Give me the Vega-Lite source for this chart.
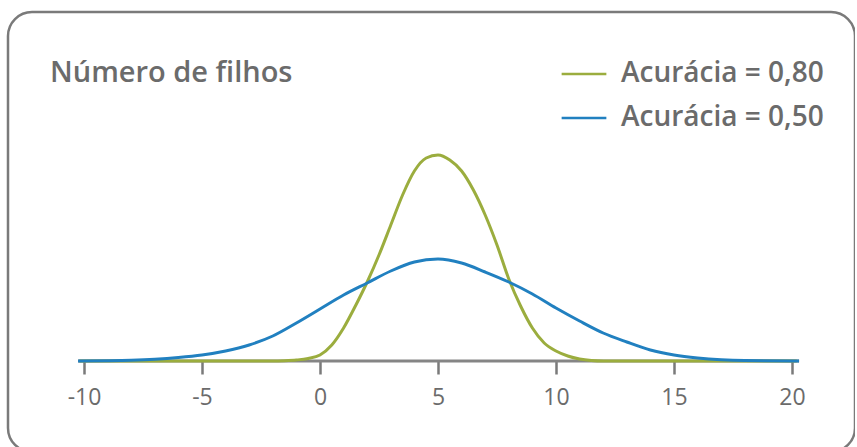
{
  "$schema": "https://vega.github.io/schema/vega-lite/v6.json",
  "autosize": "none",
  "padding": {"left": 8, "top": 12, "right": 0, "bottom": 0},
  "width": 847,
  "height": 440,
  "background": "white",
  "title": {
    "text": "Número de filhos",
    "anchor": "start",
    "frame": "group",
    "dx": 42,
    "offset": -99,
    "baseline": "alphabetic",
    "font": "Open Sans",
    "fontSize": 29,
    "fontWeight": 600,
    "color": "#6b6b6b"
  },
  "config": {
    "view": {"stroke": "#7a7a7a", "strokeWidth": 2.5, "cornerRadius": 24, "fill": "white"},
    "font": "Open Sans"
  },
  "data": {"values": [
    {"s": "Acurácia = 0,80", "x": -10.2, "y": 0},
    {"s": "Acurácia = 0,80", "x": -4, "y": 0},
    {"s": "Acurácia = 0,80", "x": -2, "y": 0},
    {"s": "Acurácia = 0,80", "x": -1.5, "y": 0.3},
    {"s": "Acurácia = 0,80", "x": -1, "y": 1},
    {"s": "Acurácia = 0,80", "x": -0.5, "y": 2.5},
    {"s": "Acurácia = 0,80", "x": 0, "y": 6},
    {"s": "Acurácia = 0,80", "x": 0.5, "y": 16},
    {"s": "Acurácia = 0,80", "x": 1, "y": 33},
    {"s": "Acurácia = 0,80", "x": 1.5, "y": 55},
    {"s": "Acurácia = 0,80", "x": 2, "y": 79},
    {"s": "Acurácia = 0,80", "x": 2.5, "y": 106},
    {"s": "Acurácia = 0,80", "x": 3, "y": 136},
    {"s": "Acurácia = 0,80", "x": 3.5, "y": 166},
    {"s": "Acurácia = 0,80", "x": 4, "y": 190},
    {"s": "Acurácia = 0,80", "x": 4.5, "y": 203},
    {"s": "Acurácia = 0,80", "x": 5, "y": 206},
    {"s": "Acurácia = 0,80", "x": 5.5, "y": 201},
    {"s": "Acurácia = 0,80", "x": 6, "y": 190},
    {"s": "Acurácia = 0,80", "x": 6.5, "y": 171},
    {"s": "Acurácia = 0,80", "x": 7, "y": 146},
    {"s": "Acurácia = 0,80", "x": 7.5, "y": 116},
    {"s": "Acurácia = 0,80", "x": 8, "y": 82},
    {"s": "Acurácia = 0,80", "x": 8.5, "y": 55},
    {"s": "Acurácia = 0,80", "x": 9, "y": 33},
    {"s": "Acurácia = 0,80", "x": 9.5, "y": 18},
    {"s": "Acurácia = 0,80", "x": 10, "y": 10},
    {"s": "Acurácia = 0,80", "x": 10.5, "y": 5},
    {"s": "Acurácia = 0,80", "x": 11, "y": 2},
    {"s": "Acurácia = 0,80", "x": 11.5, "y": 0.5},
    {"s": "Acurácia = 0,80", "x": 12, "y": 0},
    {"s": "Acurácia = 0,80", "x": 16, "y": 0},
    {"s": "Acurácia = 0,80", "x": 20.2, "y": 0},
    {"s": "Acurácia = 0,50", "x": -10.25, "y": 0},
    {"s": "Acurácia = 0,50", "x": -9, "y": 0.3},
    {"s": "Acurácia = 0,50", "x": -8, "y": 0.8},
    {"s": "Acurácia = 0,50", "x": -7, "y": 1.8},
    {"s": "Acurácia = 0,50", "x": -6, "y": 3.5},
    {"s": "Acurácia = 0,50", "x": -5, "y": 6},
    {"s": "Acurácia = 0,50", "x": -4, "y": 10},
    {"s": "Acurácia = 0,50", "x": -3, "y": 16},
    {"s": "Acurácia = 0,50", "x": -2, "y": 25},
    {"s": "Acurácia = 0,50", "x": -1, "y": 38},
    {"s": "Acurácia = 0,50", "x": 0, "y": 52},
    {"s": "Acurácia = 0,50", "x": 1, "y": 66},
    {"s": "Acurácia = 0,50", "x": 2, "y": 78},
    {"s": "Acurácia = 0,50", "x": 3, "y": 90},
    {"s": "Acurácia = 0,50", "x": 4, "y": 99},
    {"s": "Acurácia = 0,50", "x": 5, "y": 102},
    {"s": "Acurácia = 0,50", "x": 6, "y": 98},
    {"s": "Acurácia = 0,50", "x": 7, "y": 89},
    {"s": "Acurácia = 0,50", "x": 8, "y": 79},
    {"s": "Acurácia = 0,50", "x": 9, "y": 67},
    {"s": "Acurácia = 0,50", "x": 10, "y": 53},
    {"s": "Acurácia = 0,50", "x": 11, "y": 40},
    {"s": "Acurácia = 0,50", "x": 12, "y": 28},
    {"s": "Acurácia = 0,50", "x": 13, "y": 19},
    {"s": "Acurácia = 0,50", "x": 14, "y": 11},
    {"s": "Acurácia = 0,50", "x": 15, "y": 6},
    {"s": "Acurácia = 0,50", "x": 16, "y": 3},
    {"s": "Acurácia = 0,50", "x": 17, "y": 1.2},
    {"s": "Acurácia = 0,50", "x": 18, "y": 0.4},
    {"s": "Acurácia = 0,50", "x": 20.3, "y": 0}
  ]},
  "layer": [
    {
      "mark": {"type": "rule", "color": "#858585", "strokeWidth": 3},
      "encoding": {
        "x": {
          "aggregate": "min", "field": "x", "type": "quantitative",
          "scale": {"domain": [-13.22, 22.67], "nice": false, "zero": false},
          "axis": {
            "orient": "bottom", "offset": -91, "domain": false, "grid": false, "title": null,
            "values": [-10, -5, 0, 5, 10, 15, 20],
            "labelExpr": "'' + datum.value",
            "tickSize": 13, "tickWidth": 2.5, "tickColor": "#7a7a7a",
            "labelFont": "Open Sans", "labelFontSize": 23, "labelColor": "#6b6b6b", "labelPadding": 12
          }
        },
        "x2": {"aggregate": "max", "field": "x"},
        "y": {"datum": 0, "type": "quantitative", "axis": null, "scale": {"domain": [-91, 349], "nice": false, "zero": false}}
      }
    },
    {
      "mark": {"type": "line", "strokeWidth": 3, "interpolate": "monotone"},
      "encoding": {
        "x": {
          "field": "x", "type": "quantitative",
          "scale": {"domain": [-13.22, 22.67], "nice": false, "zero": false},
          "axis": {
            "orient": "bottom", "offset": -91, "domain": false, "grid": false, "title": null,
            "values": [-10, -5, 0, 5, 10, 15, 20],
            "labelExpr": "'' + datum.value",
            "tickSize": 13, "tickWidth": 2.5, "tickColor": "#7a7a7a",
            "labelFont": "Open Sans", "labelFontSize": 23, "labelColor": "#6b6b6b", "labelPadding": 12
          }
        },
        "y": {"field": "y", "type": "quantitative", "scale": {"domain": [-91, 349], "nice": false, "zero": false}, "axis": null},
        "color": {
          "field": "s", "type": "nominal",
          "scale": {"domain": ["Acurácia = 0,80", "Acurácia = 0,50"], "range": ["#9bad3e", "#2180c0"]},
          "legend": {
            "orient": "none", "legendX": 552, "legendY": 38, "title": null,
            "symbolType": "stroke", "symbolSize": 2000, "symbolStrokeWidth": 2.5,
            "labelFont": "Open Sans", "labelFontSize": 28, "labelFontWeight": 600, "labelColor": "#6b6b6b",
            "labelOffset": 13, "rowPadding": 6, "labelLimit": 0
          }
        }
      }
    }
  ]
}
